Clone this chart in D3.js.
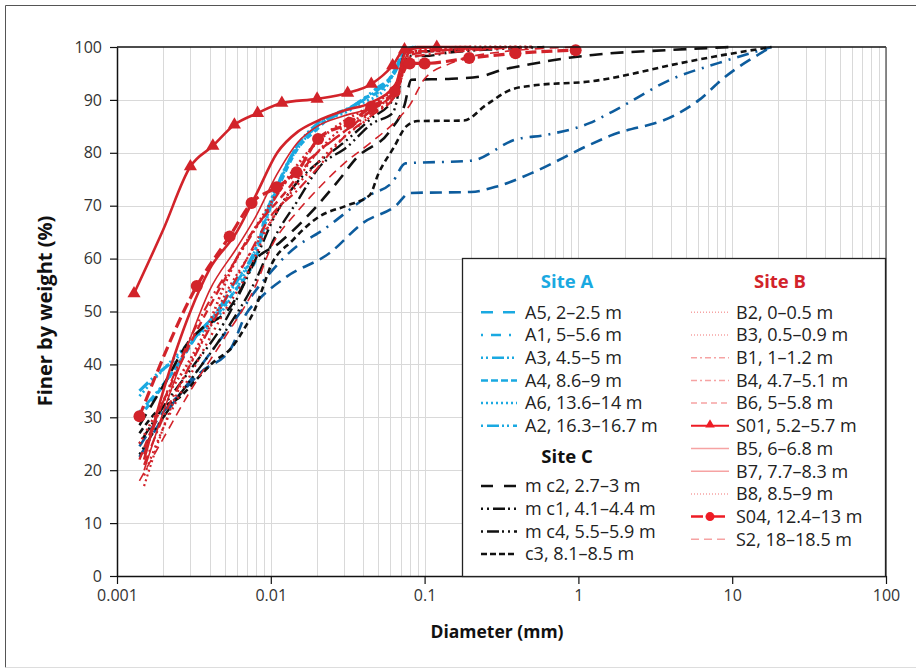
<!DOCTYPE html>
<html>
<head>
<meta charset="utf-8">
<script src="https://cdn.jsdelivr.net/npm/d3@7"></script>
<style>
  body { margin: 0; background: #fff; }
  text { font-family: "Open Sans", "Noto Sans", sans-serif; }
</style>
</head>
<body>
<svg width="916" height="670"></svg>
<script>
// ****** Data: [diameter (mm), finer by weight (%)] ******
var A5 = [[0.0014,24.5],[0.002,31],[0.0028,35.5],[0.0035,38.5],[0.0055,43],[0.0069,49.5],[0.0085,52.5],[0.0127,56.6],[0.024,61],[0.04,66.8],[0.065,70],[0.08,72.4],[0.2,72.6],[0.3,73.7],[0.5,76.2],[1.18,81.5],[1.6,83.2],[4.3,87.2],[6.1,90],[8.7,94],[18,100]];
var A1 = [[0.0014,22.5],[0.002,30],[0.003,37],[0.0045,44],[0.0057,48],[0.0085,55],[0.0147,62.3],[0.0208,65],[0.044,72],[0.062,74.5],[0.075,78],[0.2,78.5],[0.39,82.5],[0.62,83.4],[1.18,85.6],[1.67,87.8],[4.1,94],[8.2,97],[18,100]];
var A3 = [[0.0014,31],[0.0025,40],[0.0033,45.5],[0.0045,50],[0.0058,55],[0.0072,59],[0.0085,63],[0.0095,69],[0.0115,75],[0.015,81.5],[0.02,85.5],[0.03,88],[0.045,91],[0.065,95.5],[0.075,99.5],[0.09,100]];
var A4 = [[0.0014,30],[0.0027,41.5],[0.0034,46],[0.0045,49.5],[0.0057,53.5],[0.007,57],[0.0082,61],[0.009,67],[0.011,73],[0.0147,80.5],[0.02,84.5],[0.025,87],[0.033,88.5],[0.042,90.5],[0.05,91.5],[0.065,96],[0.073,99],[0.085,100]];
var A6 = [[0.0014,34],[0.0025,42],[0.0032,45],[0.0044,48.5],[0.0056,53],[0.007,58],[0.0085,64],[0.01,70],[0.0125,77],[0.016,82],[0.022,86],[0.03,87.5],[0.04,89.5],[0.055,92],[0.068,97],[0.078,100]];
var A2 = [[0.0014,35],[0.0018,38],[0.0026,42],[0.0034,46],[0.0045,50],[0.0058,55.5],[0.0073,59.5],[0.0088,65],[0.0105,72],[0.014,80],[0.019,84.5],[0.026,87],[0.035,89],[0.048,92],[0.063,95],[0.074,99],[0.088,100]];

var C2 = [[0.0014,28.5],[0.002,36],[0.003,44.7],[0.0035,46.6],[0.0055,51],[0.0066,55],[0.0076,59],[0.0114,63],[0.016,67],[0.02,70],[0.028,75],[0.036,79],[0.059,84],[0.074,89],[0.082,93.8],[0.15,94],[0.23,94.4],[0.32,95.7],[0.46,96.6],[0.68,97.5],[1.24,98.5],[3.7,99.4],[10,100]];
var C1 = [[0.0014,23],[0.002,30],[0.003,37],[0.005,46],[0.008,56],[0.0106,64],[0.015,71],[0.0208,77.4],[0.031,81],[0.046,85.6],[0.062,87.5],[0.078,98.3],[0.1,98.3],[0.15,99],[0.3,99.6],[0.6,100]];
var C4 = [[0.0014,25],[0.002,32],[0.003,39],[0.005,48],[0.008,60],[0.0106,68],[0.015,74.6],[0.02,78],[0.03,82],[0.045,86.5],[0.062,90],[0.076,99.2],[0.1,99.2],[0.2,99.7],[0.5,100]];
var C3 = [[0.0014,27],[0.0018,31],[0.0026,34],[0.0035,38],[0.0043,40.6],[0.0055,43],[0.0068,47],[0.0079,50.5],[0.009,55],[0.0098,58],[0.0139,63.5],[0.0208,68],[0.031,70],[0.044,72],[0.05,76],[0.063,81],[0.076,85],[0.09,86],[0.18,86.1],[0.25,89],[0.37,92],[0.5,92.7],[1.2,93.5],[4.7,97],[7.7,98.2],[18,100]];

var B2 = [[0.0014,25],[0.002,33],[0.003,41],[0.004,48],[0.005,55],[0.006,60],[0.008,66],[0.012,74],[0.02,82],[0.03,86],[0.045,89],[0.065,93],[0.08,99],[0.1,99.5],[0.2,100],[0.5,100]];
var B3 = [[0.0015,19],[0.002,28],[0.003,38],[0.005,50],[0.007,57],[0.01,67],[0.015,74],[0.02,78],[0.03,83],[0.045,87],[0.065,92],[0.08,99],[0.2,99.5],[0.5,100]];
var B1 = [[0.0015,21],[0.002,30],[0.003,40],[0.005,52],[0.007,60],[0.01,68],[0.015,73],[0.02,77],[0.03,83],[0.045,87],[0.065,91],[0.08,98],[0.15,99],[0.4,100]];
var B4 = [[0.0015,23],[0.002,33],[0.003,45],[0.004,52],[0.006,60],[0.009,68],[0.013,75],[0.02,80],[0.03,84],[0.045,87.5],[0.065,91],[0.08,98.5],[0.15,99.5],[0.3,100]];
var B6 = [[0.0014,22],[0.002,33],[0.003,44],[0.005,56],[0.008,66],[0.012,72],[0.02,80],[0.03,84],[0.045,88],[0.065,92],[0.08,99],[0.15,99.5],[0.4,100]];
var S01 = [[0.00129,53.4],[0.002,65.5],[0.003,77.4],[0.0042,81.3],[0.0058,85.3],[0.0082,87.5],[0.0118,89.4],[0.02,90.2],[0.0316,91.3],[0.045,93],[0.062,96.5],[0.074,99.5],[0.12,100]];
var S01_marks = [0, 2, 3, 4, 5, 6, 7, 8, 9, 10, 11, 12];   // points drawn with a triangle
var B5 = [[0.0015,22],[0.002,35],[0.003,50],[0.004,58],[0.006,65],[0.008,72],[0.011,80],[0.015,84],[0.02,86],[0.03,88],[0.045,89.5],[0.065,93],[0.075,99],[0.09,100],[0.2,100]];
var B7 = [[0.0015,20],[0.002,31],[0.003,45],[0.004,54],[0.006,62],[0.008,68],[0.011,76],[0.015,82],[0.02,85],[0.03,87],[0.045,88.5],[0.065,91.5],[0.075,98],[0.09,100]];
var B8 = [[0.0015,17],[0.002,28],[0.003,40],[0.004,47],[0.005,53],[0.007,60],[0.01,67],[0.015,75],[0.02,80],[0.03,85],[0.045,88],[0.065,92],[0.08,99],[0.15,99.6],[0.4,100]];
var S04 = [[0.0014,30.2],[0.0033,54.8],[0.0054,64.2],[0.0075,70.5],[0.0109,73.5],[0.0147,76.3],[0.0203,82.6],[0.0325,85.7],[0.045,88.7],[0.064,91.6],[0.08,96.9],[0.1,96.9],[0.195,97.9],[0.39,98.8],[0.96,99.4]];
var S2 = [[0.0014,18],[0.002,26],[0.003,35],[0.005,45],[0.008,55],[0.01,62],[0.015,69],[0.02,73],[0.03,78],[0.045,82],[0.065,86],[0.08,89],[0.1,94],[0.15,97],[0.3,99],[1,100]];

var siteA_names = ["A5, 2\u20132.5 m", "A1, 5\u20135.6 m", "A3, 4.5\u20135 m", "A4, 8.6\u20139 m", "A6, 13.6\u201314 m", "A2, 16.3\u201316.7 m"];
var siteC_names = ["m c2, 2.7\u20133 m", "m c1, 4.1\u20134.4 m", "m c4, 5.5\u20135.9 m", "c3, 8.1\u20138.5 m"];
var siteB_names = ["B2, 0\u20130.5 m", "B3, 0.5\u20130.9 m", "B1, 1\u20131.2 m", "B4, 4.7\u20135.1 m", "B6, 5\u20135.8 m", "S01, 5.2\u20135.7 m",
                   "B5, 6\u20136.8 m", "B7, 7.7\u20138.3 m", "B8, 8.5\u20139 m", "S04, 12.4\u201313 m", "S2, 18\u201318.5 m"];

var xTicks = [0.001, 0.01, 0.1, 1, 10, 100];
var xTickLabels = ["0.001", "0.01", "0.1", "1", "10", "100"];
var yTicks = [0, 10, 20, 30, 40, 50, 60, 70, 80, 90, 100];

// ****** Styles ******
var RED = "#d2232a", DBLUE = "#0d5c9d", LBLUE = "#1aa9e1";
var siteA = [
  {data: A5, color: DBLUE, dash: "12,7", w: 2.6, legColor: LBLUE, legDash: "12,10"},
  {data: A1, color: DBLUE, dash: "12,7,2,7", w: 2.6, legColor: LBLUE, legDash: "2,8,10,8"},
  {data: A3, color: LBLUE, dash: "2,3,2,3,12,3", w: 2.8, legColor: LBLUE, legDash: "2,3,2,4,12,3"},
  {data: A4, color: LBLUE, dash: "6,4", w: 3.2, legColor: LBLUE, legDash: "7,3"},
  {data: A6, color: LBLUE, dash: "2,3", w: 2.8, legColor: LBLUE, legDash: "2,3"},
  {data: A2, color: LBLUE, dash: "12,4,2,4,2,4", w: 3.2, legColor: LBLUE, legDash: "2,4,12,3,2,3"}
];
var siteC = [
  {data: C2, color: "#111", dash: "13,8", w: 2.6, legDash: "12,11"},
  {data: C1, color: "#111", dash: "2,4,2,4,13,4", w: 2.4, legDash: "2,4,2,4,12,3"},
  {data: C4, color: "#111", dash: "2,4,13,4,2,4", w: 2.4, legDash: "2,4,12,3,2,4"},
  {data: C3, color: "#111", dash: "6,4", w: 2.6, legDash: "6,3"}
];
var siteB = [
  {data: B2, dash: "2,3", w: 2.8, legDash: "1,2"},
  {data: B3, dash: "2,4", w: 2.4, legDash: "1,2"},
  {data: B1, dash: "10,4,2,4", w: 2.2, legDash: "6,3,2,3"},
  {data: B4, dash: "10,4,2,4,2,4", w: 2.2, legDash: "6,3,2,3"},
  {data: B6, dash: "8,5", w: 2.4, legDash: "6,4"},
  {data: S01, dash: null, w: 2.6, legDash: null},
  {data: B5, dash: null, w: 2.6, legDash: null},
  {data: B7, dash: null, w: 1.6, legDash: null},
  {data: B8, dash: "2,3", w: 2.2, legDash: "1,2"},
  {data: S04, dash: "11,5", w: 3.2, legDash: "12,10"},
  {data: S2, dash: "9,6", w: 1.6, legDash: "8,5"}
];

var svg = d3.select("svg");
var x = d3.scaleLog().domain([0.001, 100]).range([117, 886]);
var y = d3.scaleLinear().domain([0, 100]).range([576, 47]);

// outer frame
svg.append("line").attr("x1", 5.5).attr("x2", 5.5).attr("y1", 5.5).attr("y2", 667.5).attr("stroke", "#555");
svg.append("line").attr("x1", 5.5).attr("x2", 916).attr("y1", 5.5).attr("y2", 5.5).attr("stroke", "#555");
svg.append("line").attr("x1", 5.5).attr("x2", 916).attr("y1", 667.5).attr("y2", 667.5).attr("stroke", "#ddd");

// grid
var grid = svg.append("g").attr("stroke", "#d9d9d9").attr("stroke-width", 1);
grid.selectAll("line.v").data(x.ticks()).join("line")
    .attr("x1", d => Math.round(x(d)) + 0.5).attr("x2", d => Math.round(x(d)) + 0.5)
    .attr("y1", y(100)).attr("y2", y(0));
grid.selectAll("line.h").data(yTicks.slice(1, -1)).join("line")
    .attr("x1", x(0.001)).attr("x2", x(100))
    .attr("y1", d => Math.round(y(d)) + 0.5).attr("y2", d => Math.round(y(d)) + 0.5);

// series
var line = d3.line().x(d => x(d[0])).y(d => y(d[1])).curve(d3.curveMonotoneX);
var plot = svg.append("g").attr("fill", "none").attr("stroke-linecap", "butt").attr("stroke-linejoin", "round");

function drawSeries(list, color) {
    list.forEach(function(s) {
        plot.append("path")
            .attr("d", line(s.data))
            .attr("stroke", s.color || color)
            .attr("stroke-width", s.w)
            .attr("stroke-dasharray", s.dash);
    });
}
drawSeries(siteA.filter(s => s.color == DBLUE));
drawSeries(siteA.filter(s => s.color == LBLUE));
drawSeries(siteC);
drawSeries(siteB, RED);

// markers
var tri = d3.symbol().type(d3.symbolTriangle).size(75);
var marks = svg.append("g").attr("fill", RED);
marks.selectAll("path").data(S01_marks.map(i => S01[i])).join("path")
    .attr("d", tri).attr("transform", d => `translate(${x(d[0])},${y(d[1])})`);
marks.selectAll("circle").data(S04).join("circle")
    .attr("cx", d => x(d[0])).attr("cy", d => y(d[1])).attr("r", 6);

// axes
var xAxis = svg.append("g").attr("transform", "translate(0," + y(0) + ")")
    .call(d3.axisBottom(x).tickValues(xTicks).tickFormat((d, i) => xTickLabels[i]).tickSize(8).tickSizeOuter(0).tickPadding(6));
var yAxis = svg.append("g").attr("transform", "translate(" + x(0.001) + ",0)")
    .call(d3.axisLeft(y).tickValues(yTicks).tickSize(7).tickSizeOuter(0).tickPadding(8));
[xAxis, yAxis].forEach(function(a) {
    a.select(".domain").attr("stroke", "#111").attr("stroke-width", 1.5);
    a.selectAll(".tick line").attr("stroke", "#111").attr("stroke-width", 1.2);
    a.selectAll(".tick text").attr("fill", "#333").attr("font-size", 16).attr("font-family", "Open Sans");
});
svg.append("line").attr("x1", x(0.001)).attr("x2", x(100)).attr("y1", y(100)).attr("y2", y(100)).attr("stroke", "#111").attr("stroke-width", 1.5);
svg.append("line").attr("x1", x(100)).attr("x2", x(100)).attr("y1", y(100)).attr("y2", y(0)).attr("stroke", "#444").attr("stroke-width", 1.2);

svg.append("text").attr("x", 497).attr("y", 638).attr("text-anchor", "middle")
    .attr("font-size", 17.5).attr("font-weight", "bold").attr("fill", "#111").text("Diameter (mm)");
svg.append("text").attr("transform", "translate(52,311) rotate(-90)").attr("text-anchor", "middle")
    .attr("font-size", 20).attr("font-weight", "bold").attr("fill", "#111").text("Finer by weight (%)");

// ****** Legend ******
var leg = svg.append("g");
leg.append("rect").attr("x", 462.5).attr("y", 258.5).attr("width", 423).attr("height", 318)
    .attr("fill", "#fff").attr("stroke", "#222").attr("stroke-width", 1.3);

function legendHeader(label, cx, cy, color) {
    leg.append("text").attr("x", cx).attr("y", cy).attr("dy", "0.35em").attr("text-anchor", "middle")
        .attr("font-size", 18.5).attr("font-weight", "bold").attr("fill", color).text(label);
}
function legendRows(list, names, x0, x1, tx, y0, defColor, w) {
    list.forEach(function(s, i) {
        var cy = y0 + i * 22.7;
        leg.append("line").attr("x1", x0).attr("x2", x1).attr("y1", cy).attr("y2", cy)
            .attr("stroke", s.legColor || defColor).attr("stroke-width", s.legW || w)
            .attr("stroke-dasharray", s.legDash);
        leg.append("text").attr("x", tx).attr("y", cy).attr("dy", "0.35em")
            .attr("font-size", 18).attr("fill", "#222").text(names[i]);
    });
}
legendHeader("Site A", 567, 282, LBLUE);
legendRows(siteA, siteA_names, 481, 517, 525, 312.3, LBLUE, 2.5);
legendHeader("Site C", 567, 457, "#111");
legendRows(siteC, siteC_names, 481, 517, 525, 486, "#111", 2.5);
legendHeader("Site B", 780, 282, RED);
siteB[5].legColor = "#ee1c25"; siteB[5].legW = 2;
siteB[9].legColor = "#ee1c25"; siteB[9].legW = 2.5;
legendRows(siteB, siteB_names, 691, 729, 736, 312.3, "#f6a3a3", 1.5);
leg.append("path").attr("d", tri.size(40)).attr("fill", "#ee1c25").attr("transform", "translate(710," + (312.3 + 5 * 22.7 - 1) + ")");
leg.append("circle").attr("cx", 710).attr("cy", 312.3 + 9 * 22.7).attr("r", 4.5).attr("fill", "#ee1c25");
</script>
</body>
</html>
